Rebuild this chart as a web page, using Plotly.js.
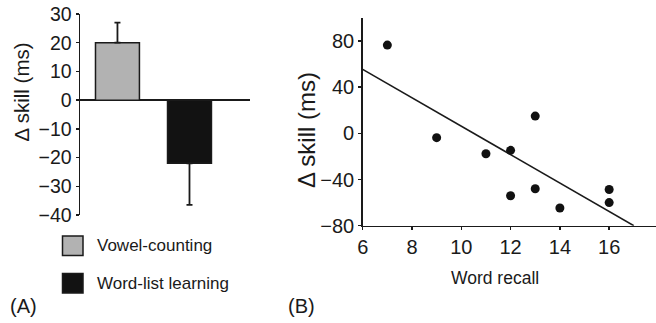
<!DOCTYPE html>
<html>
<head>
<meta charset="utf-8">
<script src="https://cdn.plot.ly/plotly-3.0.1.min.js"></script>
<style>html,body{margin:0;padding:0;background:#fff;}#chart{width:656px;height:323px;}</style>
</head>
<body>
<div id="chart"></div>
<script>
// Panel A data
const conditions = ["Vowel-counting", "Word-list learning"];
const deltaSkill = [20, -22];
const errUp = [7, 0];
const errDown = [0, 14.5];
const barColors = ["#b2b2b2", "#121212"];

// Panel B data
const wordRecall = [7, 9, 11, 12, 12, 13, 13, 14, 16, 16];
const skillChange = [76.5, -3.7, -17.6, -14.7, -54, 15, -48, -64.7, -48.6, -60];
const fitX = [6, 17];
const fitY = [55.5, -80];

const W = 656, H = 323;
const px = v => v / W;
const py = v => 1 - v / H;
const ink = "#1a1a1a";
const fontFam = "Liberation Sans, Arial, sans-serif";

const traces = [
  {
    type: "bar",
    x: [0, 1],
    y: deltaSkill,
    width: 0.61,
    marker: {color: barColors, line: {color: ink, width: 1.5}},
    error_y: {type: "data", symmetric: false, array: errUp, arrayminus: errDown,
              color: ink, thickness: 1.8, width: 3},
    xaxis: "x", yaxis: "y",
    hoverinfo: "skip"
  },
  {
    type: "scatter", mode: "lines",
    x: fitX, y: fitY,
    line: {color: ink, width: 1.6},
    xaxis: "x2", yaxis: "y2", cliponaxis: false
  },
  {
    type: "scatter", mode: "markers",
    x: wordRecall, y: skillChange,
    marker: {color: "#111", size: 9},
    xaxis: "x2", yaxis: "y2", cliponaxis: false
  }
];

const layout = {
  width: W, height: H,
  margin: {l: 0, r: 0, t: 0, b: 0},
  paper_bgcolor: "#fff", plot_bgcolor: "rgba(0,0,0,0)",
  showlegend: false,
  font: {family: fontFam, color: ink, size: 17},
  xaxis: {
    domain: [px(80), px(250)], range: [-0.52, 1.84],
    showline: false, showgrid: false, zeroline: false, showticklabels: false, ticks: "",
    anchor: "y", fixedrange: true
  },
  yaxis: {
    domain: [py(215), py(14)], range: [-40, 30],
    tickvals: [-40, -30, -20, -10, 0, 10, 20, 30],
    showline: true, linecolor: ink, linewidth: 1.5,
    ticks: "outside", ticklen: 3, tickwidth: 1.5, tickcolor: ink,
    showgrid: false, zeroline: true, zerolinecolor: ink, zerolinewidth: 2,
    tickfont: {size: 19.5, color: ink}, anchor: "x"
  },
  xaxis2: {
    domain: [px(362.7), 1], range: [6, 17.9],
    tickvals: [6, 8, 10, 12, 14, 16],
    showline: true, linecolor: ink, linewidth: 1.5,
    ticks: "outside", ticklen: 3, tickwidth: 1.5, tickcolor: ink,
    showgrid: false, zeroline: false,
    tickfont: {size: 20, color: ink}, anchor: "y2"
  },
  yaxis2: {
    domain: [py(225.7), py(18)], range: [-80, 100],
    tickvals: [-80, -40, 0, 40, 80],
    showline: true, linecolor: ink, linewidth: 1.5,
    ticks: "outside", ticklen: 3, tickwidth: 1.5, tickcolor: ink,
    showgrid: false, zeroline: false,
    tickfont: {size: 20, color: ink}, anchor: "x2"
  },
  shapes: [
    {type: "rect", xref: "paper", yref: "paper",
     x0: px(62.5), x1: px(83), y0: py(255.5), y1: py(236),
     fillcolor: barColors[0], line: {color: ink, width: 1.5}},
    {type: "rect", xref: "paper", yref: "paper",
     x0: px(62.5), x1: px(83), y0: py(293), y1: py(273.5),
     fillcolor: barColors[1], line: {color: ink, width: 1.5}}
  ],
  annotations: [
    {xref: "paper", yref: "paper", x: px(21), y: py(92.5), text: "Δ skill (ms)",
     textangle: -90, showarrow: false, xanchor: "center", yanchor: "middle",
     font: {size: 20.5, color: ink}},
    {xref: "paper", yref: "paper", x: px(306), y: py(130), text: "Δ skill (ms)",
     textangle: -90, showarrow: false, xanchor: "center", yanchor: "middle",
     font: {size: 24, color: ink}},
    {xref: "paper", yref: "paper", x: px(495), y: py(277.5), text: "Word recall",
     showarrow: false, xanchor: "center", yanchor: "middle",
     font: {size: 17.5, color: ink}},
    {xref: "paper", yref: "paper", x: px(95), y: py(245.5), text: conditions[0],
     showarrow: false, xanchor: "left", yanchor: "middle",
     font: {size: 17, color: ink}},
    {xref: "paper", yref: "paper", x: px(95), y: py(283), text: conditions[1],
     showarrow: false, xanchor: "left", yanchor: "middle",
     font: {size: 17, color: ink}},
    {xref: "paper", yref: "paper", x: px(23), y: py(306), text: "(A)",
     showarrow: false, xanchor: "center", yanchor: "middle",
     font: {size: 20, color: ink}},
    {xref: "paper", yref: "paper", x: px(301), y: py(306), text: "(B)",
     showarrow: false, xanchor: "center", yanchor: "middle",
     font: {size: 20, color: ink}}
  ]
};

Plotly.newPlot("chart", traces, layout, {displayModeBar: false, staticPlot: true});
</script>
</body>
</html>
